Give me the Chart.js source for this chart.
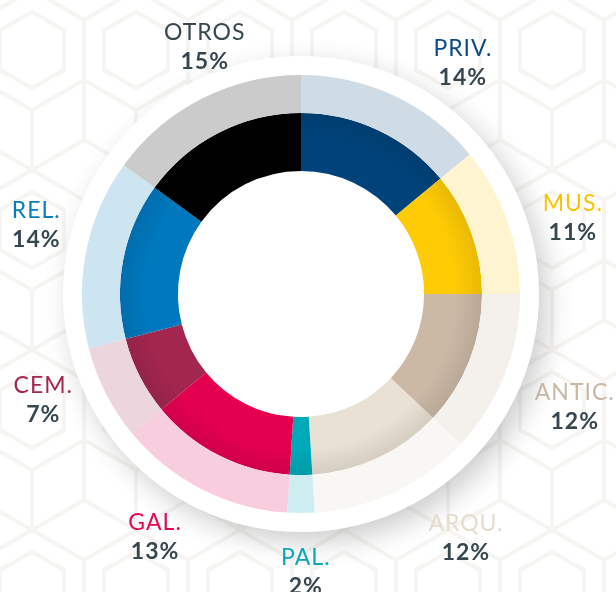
<!DOCTYPE html>
<html>
<head>
<meta charset="utf-8">
<script src="https://cdn.jsdelivr.net/npm/chart.js@4.4.1/dist/chart.umd.min.js"></script>
<style>
  html, body { margin: 0; padding: 0; background: #ffffff; }
  #wrap {
    width: 616px; height: 592px; position: relative;
    background-image: url("data:image/svg+xml;utf8,<svg xmlns='http://www.w3.org/2000/svg' width='104' height='180'><g fill='none' stroke='%23f7f5f1' stroke-width='4'><path d='M52 0 L104 30 L104 90 L52 120 L0 90 L0 30 Z'/><path d='M52 22 L84 40 L84 80 L52 98 L20 80 L20 40 Z'/><path d='M52 120 L52 180 M0 90 L0 150 L52 180 M104 90 L104 150 L52 180'/></g></svg>");
    background-position: -20px -10px;
  }
</style>
</head>
<body>
<div id="wrap"><canvas id="donut" width="616" height="592"></canvas></div>
<script>
// categorías y porcentajes
const categories = ["PRIV.", "MUS.", "ANTIC.", "ARQU.", "PAL.", "GAL.", "CEM.", "REL.", "OTROS"];
const shares = [14, 11, 12, 12, 2, 13, 7, 14, 15];
const shareLabels = ["14%", "11%", "12%", "12%", "2%", "13%", "7%", "14%", "15%"];

// colores anillo interior (fuerte) y exterior (claro)
const strongColors = ["#00437a", "#ffcb05", "#cbb9a6", "#e9e1d3", "#00a9b7", "#e4004f", "#a3264f", "#0078bd", "#000000"];
const paleColors   = ["#cfdce6", "#fff4d0", "#f4f1ec", "#f9f7f3", "#cdedf0", "#f8cddd", "#ecd5dd", "#cde4f1", "#cbcbcb"];
const nameColors   = ["#0d4a83", "#f8c300", "#c8b7a4", "#e5dccc", "#0aa8b6", "#e10a50", "#a3264f", "#0a7cc0", "#37474f"];
const pctColor = "#37474f";

// posición de etiquetas: desplazamiento angular (grados) y distancia relativa al radio
const labelShift = [9.7, 4, 0.6, -9, -1, 4.1, 4.9, 4, 5.8];
const labelDist  = [1.292, 1.29, 1.35, 1.34, 1.265, 1.29, 1.27, 1.25, 1.215];

function darken(hex, amt) {
  const n = parseInt(hex.slice(1), 16);
  const r = Math.round(((n >> 16) & 255) * (1 - amt));
  const g = Math.round(((n >> 8) & 255) * (1 - amt));
  const b = Math.round((n & 255) * (1 - amt));
  return `rgb(${r},${g},${b})`;
}

function shaded(context) {
  const color = strongColors[context.dataIndex];
  const chart = context.chart;
  const area = chart.chartArea;
  if (!area) return color;
  const cx = (area.left + area.right) / 2;
  const cy = (area.top + area.bottom) / 2;
  const R = Math.min(area.right - area.left, area.bottom - area.top) / 2;
  const g = chart.ctx.createRadialGradient(cx, cy, R * 0.56, cx, cy, R * 0.83);
  g.addColorStop(0, color);
  g.addColorStop(0.55, color);
  g.addColorStop(1, darken(color, 0.09));
  return g;
}

// disco blanco con sombra detrás de la dona
const backDisc = {
  id: "backDisc",
  beforeDatasetsDraw(chart) {
    const meta = chart.getDatasetMeta(0);
    if (!meta.data.length) return;
    const arc = meta.data[0];
    const ctx = chart.ctx;
    ctx.save();
    ctx.shadowColor = "rgba(0,0,0,0.2)";
    ctx.shadowBlur = 28;
    ctx.shadowOffsetX = 8;
    ctx.shadowOffsetY = 10;
    ctx.fillStyle = "#ffffff";
    ctx.beginPath();
    ctx.arc(arc.x, arc.y, arc.outerRadius + 19, 0, Math.PI * 2);
    ctx.fill();
    ctx.restore();
  }
};

// etiquetas de nombre y porcentaje
const outerLabels = {
  id: "outerLabels",
  afterDatasetsDraw(chart) {
    const meta = chart.getDatasetMeta(0);
    const ctx = chart.ctx;
    ctx.save();
    ctx.textAlign = "center";
    ctx.textBaseline = "alphabetic";
    ctx.letterSpacing = "1px";
    meta.data.forEach((arc, i) => {
      const mid = (arc.startAngle + arc.endAngle) / 2 + labelShift[i] * Math.PI / 180;
      const r = arc.outerRadius * labelDist[i];
      const x = arc.x + r * Math.cos(mid);
      const y = arc.y + r * Math.sin(mid);
      ctx.font = "400 23px Lato";
      ctx.fillStyle = nameColors[i];
      ctx.fillText(categories[i], x, y - 6);
      ctx.font = "700 23px Lato";
      ctx.fillStyle = pctColor;
      ctx.fillText(shareLabels[i], x, y + 23);
    });
    ctx.restore();
  }
};

new Chart(document.getElementById("donut"), {
  type: "doughnut",
  data: {
    labels: categories,
    datasets: [
      {
        data: shares,
        backgroundColor: paleColors,
        borderWidth: 0,
        weight: 38
      },
      {
        data: shares,
        backgroundColor: shaded,
        borderWidth: 0,
        weight: 58
      }
    ]
  },
  options: {
    responsive: false,
    animation: false,
    cutout: "56.2%",
    layout: {
      padding: { left: 82, right: 96, top: 75, bottom: 79 }
    },
    plugins: {
      legend: { display: false },
      tooltip: { enabled: false },
      title: { display: false }
    }
  },
  plugins: [backDisc, outerLabels]
});
</script>
</body>
</html>
